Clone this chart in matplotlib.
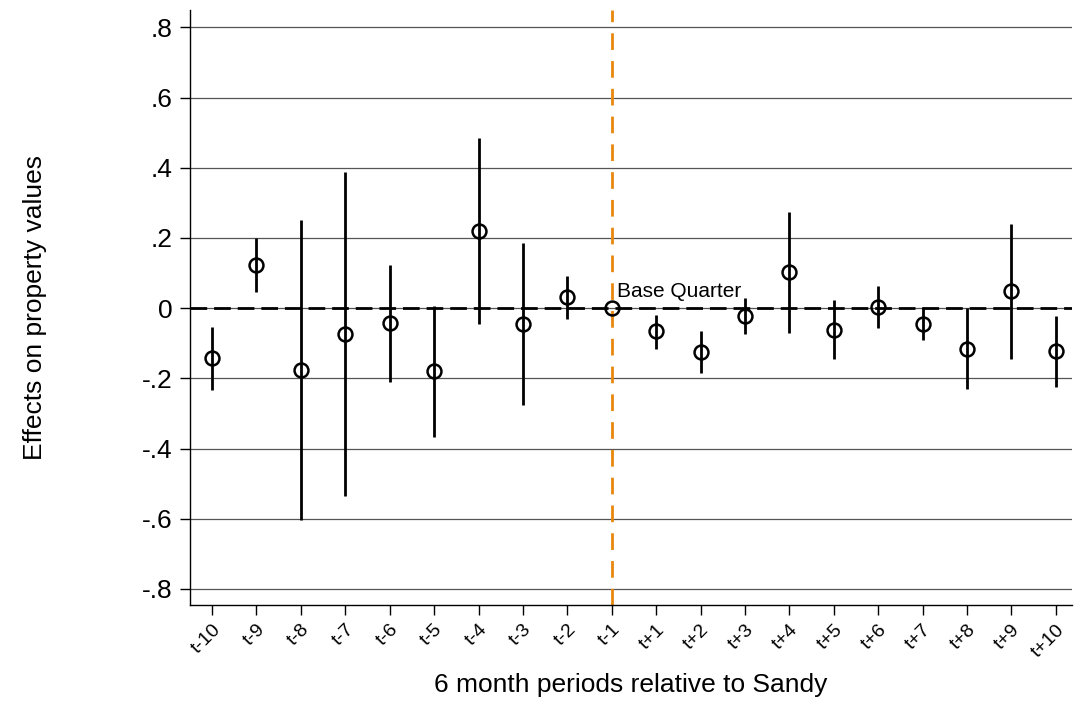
import numpy as np
import matplotlib
matplotlib.use('Agg')
import matplotlib.pyplot as plt

plt.rcParams['font.family'] = ['Liberation Sans', 'DejaVu Sans']

# event-study estimates, 6 month periods around Sandy
periods = ['t-10', 't-9', 't-8', 't-7', 't-6', 't-5', 't-4', 't-3', 't-2', 't-1',
           't+1', 't+2', 't+3', 't+4', 't+5', 't+6', 't+7', 't+8', 't+9', 't+10']
coef = [-0.143, 0.124, -0.175, -0.074, -0.042, -0.180, 0.220, -0.045, 0.031, 0.0,
        -0.066, -0.124, -0.021, 0.102, -0.061, 0.003, -0.045, -0.117, 0.048, -0.123]
ci_low = [-0.233, 0.047, -0.603, -0.534, -0.209, -0.368, -0.045, -0.277, -0.030, 0.0,
          -0.117, -0.184, -0.074, -0.070, -0.146, -0.057, -0.092, -0.229, -0.145, -0.224]
ci_high = [-0.054, 0.199, 0.251, 0.387, 0.124, 0.007, 0.485, 0.186, 0.092, 0.0,
           -0.019, -0.065, 0.029, 0.273, 0.024, 0.064, 0.003, 0.0, 0.240, -0.022]

yticks = [-0.8, -0.6, -0.4, -0.2, 0, 0.2, 0.4, 0.6, 0.8]
ytick_labels = ['-.8', '-.6', '-.4', '-.2', '0', '.2', '.4', '.6', '.8']

x = np.arange(1, len(periods) + 1)
base_idx = periods.index('t-1')

fig = plt.figure(figsize=(10.74, 7.02), dpi=100)
ax = fig.add_axes([0.177, 0.138, 0.821, 0.848])

# grid
for yv in yticks:
    ax.axhline(yv, color='#555555', lw=0.9, zorder=0)

ax.axhline(0, color='black', lw=2, ls=(0, (6, 2.5)), zorder=2)
ax.axvline(x[base_idx], color='#e8870e', lw=2, ls=(0, (6, 4)), zorder=2)

ax.vlines(x, ci_low, ci_high, color='black', lw=2, zorder=3)
ax.plot(x, coef, 'o', mfc='none', mec='black', ms=10, mew=1.8, zorder=4)

ax.annotate('Base Quarter', (x[base_idx], coef[base_idx]), xytext=(4, 5),
            textcoords='offset points', ha='left', va='bottom', fontsize=15)

ax.set_xlim(0.505, 20.36)
ax.set_ylim(-0.846, 0.85)
ax.set_yticks(yticks)
ax.set_yticklabels(ytick_labels, fontsize=19)
ax.set_xticks(x)
ax.set_xticklabels(periods, rotation=45, ha='right', rotation_mode='anchor', fontsize=14)
ax.tick_params(axis='both', length=7.5, width=1, direction='out')
ax.tick_params(axis='y', pad=5)
ax.tick_params(axis='x', pad=4)

for s in ['top', 'right']:
    ax.spines[s].set_visible(False)
ax.spines['left'].set_linewidth(1)
ax.spines['bottom'].set_linewidth(1)

ax.set_ylabel('Effects on property values', fontsize=19)
ax.set_xlabel('6 month periods relative to Sandy', fontsize=19)
ax.yaxis.set_label_coords(-0.162, 0.5)
ax.xaxis.set_label_coords(0.5, -0.114)
ax.xaxis.label.set_va('top')

fig.savefig('out.png', dpi=100)
